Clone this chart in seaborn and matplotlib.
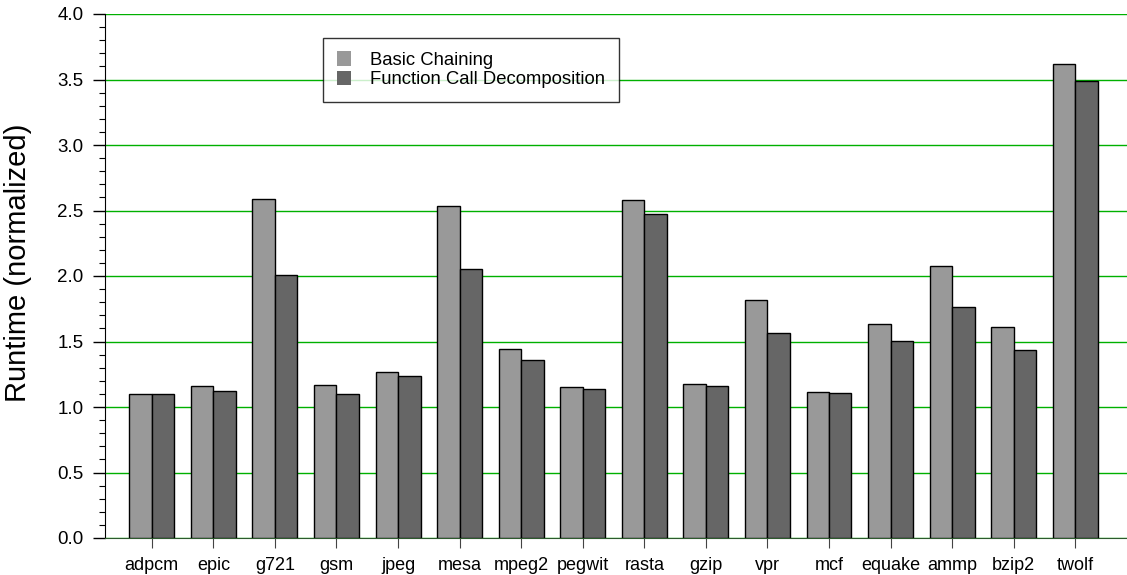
import numpy as np
import pandas as pd
import seaborn as sns
import matplotlib.pyplot as plt
from matplotlib.ticker import MultipleLocator, FormatStrFormatter

benchmarks = ["adpcm", "epic", "g721", "gsm", "jpeg", "mesa", "mpeg2", "pegwit",
              "rasta", "gzip", "vpr", "mcf", "equake", "ammp", "bzip2", "twolf"]
basic_chaining = [1.10, 1.16, 2.59, 1.17, 1.265, 2.535, 1.445, 1.155,
                  2.583, 1.173, 1.82, 1.112, 1.637, 2.076, 1.614, 3.62]
func_call_decomp = [1.10, 1.12, 2.01, 1.10, 1.234, 2.05, 1.36, 1.137,
                    2.47, 1.16, 1.563, 1.104, 1.507, 1.762, 1.433, 3.49]
series_names = ["Basic Chaining", "Function Call Decomposition"]

df = pd.DataFrame({
    "benchmark": benchmarks * 2,
    "runtime": basic_chaining + func_call_decomp,
    "series": [series_names[0]] * len(benchmarks) + [series_names[1]] * len(benchmarks),
})

sns.set_style("white")
plt.rcParams["font.family"] = ["Liberation Sans", "DejaVu Sans"]
plt.rcParams["text.color"] = "black"
plt.rcParams["axes.labelcolor"] = "black"
plt.rcParams["xtick.color"] = "black"
plt.rcParams["ytick.color"] = "black"

fig = plt.figure(figsize=(11.27, 5.75), dpi=100)
ax = fig.add_axes([105 / 1127, 37 / 575, 1022 / 1127, 524 / 575])

sns.barplot(df, x="benchmark", y="runtime", hue="series",
            palette=["#999999", "#666666"], width=0.73, saturation=1,
            edgecolor="black", linewidth=1, ax=ax, zorder=3)

ax.set_xlim(-0.76, 15.84)
ax.yaxis.set_major_locator(MultipleLocator(0.5))
ax.yaxis.set_minor_locator(MultipleLocator(0.1))
ax.yaxis.set_major_formatter(FormatStrFormatter("%.1f"))
ax.set_ylim(0, 4.0)
ax.grid(True, axis="y", which="major", color="#00b000", lw=1, zorder=0)
ax.set_axisbelow(True)

for side in ["top", "right"]:
    ax.spines[side].set_visible(False)
ax.spines["left"].set_color("black")
ax.spines["bottom"].set_color("#2d5a2d")

ax.tick_params(axis="x", which="major", direction="out", length=7.5, width=0.8,
               color="#444444", labelcolor="black", labelsize=13, pad=6, bottom=True)
ax.tick_params(axis="y", which="major", direction="out", length=8.6, width=1,
               color="black", labelcolor="black", labelsize=13.5, pad=7, left=True)
ax.tick_params(axis="y", which="minor", direction="out", length=4, width=0.8,
               color="black", left=True)

ax.set_xlabel("")
ax.set_ylabel("Runtime (normalized)", fontsize=21, color="black")
ax.yaxis.set_label_coords(-0.071, 0.525)

ax.legend(loc="upper left", bbox_to_anchor=(0.213, 0.955), frameon=True,
          fancybox=False, edgecolor="black", fontsize=13.3, handlelength=0.8,
          handleheight=0.8, handletextpad=1.0, borderpad=0.75, labelspacing=0.1,
          borderaxespad=0)
leg = ax.get_legend()
leg.get_frame().set_linewidth(1)
for h in leg.legend_handles:
    h.set_edgecolor("none")

plt.savefig("out.png", dpi=100)
